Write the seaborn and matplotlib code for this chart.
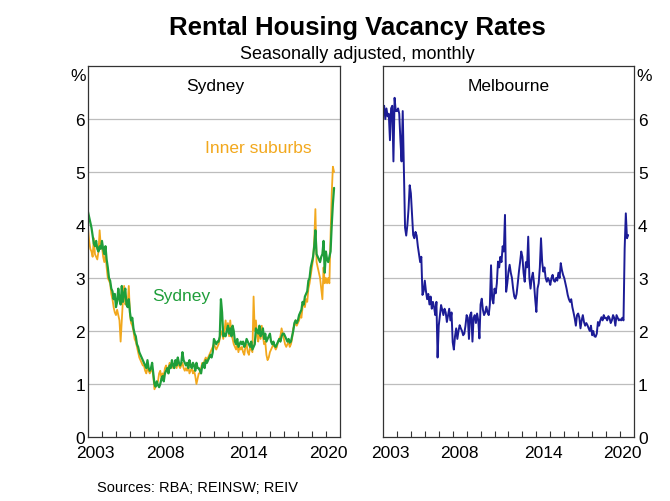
import numpy as np
import pandas as pd
import seaborn as sns
import matplotlib.pyplot as plt

# Monthly vacancy rates (%), Jan 2003 - Aug 2020
sydney = [
    4.25, 4.15, 4.05, 3.95, 3.8, 3.65, 3.6, 3.7, 3.55, 3.5, 3.6, 3.55,
    3.7, 3.55, 3.45, 3.6, 3.35, 3.2, 3.0, 2.95, 2.8, 2.75, 2.6, 2.7,
    2.45, 2.55, 2.8, 2.6, 2.5, 2.85, 2.55, 2.7, 2.8, 2.5, 2.45, 2.6,
    2.35, 2.2, 2.25, 2.05, 1.95, 1.9, 1.75, 1.7, 1.6, 1.55, 1.5, 1.45,
    1.4, 1.35, 1.3, 1.45, 1.3, 1.25, 1.3, 1.4, 1.2, 1.0, 0.95, 1.05,
    0.98, 0.94, 1.0, 1.1, 1.15, 1.05, 1.2, 1.25, 1.3, 1.2, 1.35, 1.3,
    1.45, 1.35, 1.3, 1.45, 1.35, 1.5, 1.4, 1.35, 1.4, 1.6, 1.45, 1.4,
    1.35, 1.4, 1.3, 1.45, 1.35, 1.3, 1.4, 1.35, 1.25, 1.4, 1.3, 1.3,
    1.25, 1.2, 1.35, 1.4, 1.3, 1.45, 1.4, 1.45, 1.5, 1.55, 1.5, 1.6,
    1.85, 1.8, 1.75, 1.8, 1.8, 1.9, 2.6, 2.35, 1.9, 1.95, 1.9, 2.0,
    2.1, 1.95, 2.05, 1.9, 2.1, 2.0, 1.8, 1.75, 1.85, 1.7, 1.75, 1.8,
    1.75, 1.8, 1.7, 1.75, 1.85, 1.8, 1.75, 1.7, 1.8, 1.65, 1.7, 1.75,
    2.05, 2.0, 1.95, 2.1, 1.9, 1.95, 2.05, 1.85, 1.95, 1.8, 1.85, 1.9,
    1.95, 1.8, 1.75, 1.8, 1.72, 1.7, 1.75, 1.8, 1.85, 1.8, 1.9, 1.95,
    1.95, 1.9, 1.85, 1.8, 1.85, 1.78, 1.8, 1.9, 2.0, 2.15, 2.2, 2.15,
    2.2, 2.3, 2.35, 2.4, 2.55, 2.5, 2.65, 2.7, 2.75, 2.95, 3.0, 3.2,
    3.3, 3.4, 3.6, 3.9, 3.45, 3.4, 3.35, 3.3, 3.4, 3.45, 3.7, 3.1,
    3.5, 3.35, 3.3, 3.4, 3.5, 4.0, 4.4, 4.7,
]

inner_suburbs = [
    3.95, 3.7, 3.55, 3.5, 3.4, 3.75, 3.45, 3.4, 3.35, 3.5, 3.9, 3.6,
    3.6, 3.4, 3.3, 3.45, 3.2, 3.0, 2.95, 2.9, 2.7, 2.6, 2.45, 2.35,
    2.3, 2.4, 2.3, 2.2, 1.8, 2.2, 2.6, 2.85, 2.5, 2.55, 2.5, 2.85,
    2.3, 2.15, 2.1, 2.0, 1.85, 1.8, 1.7, 1.6, 1.5, 1.45, 1.4, 1.35,
    1.35, 1.25, 1.2, 1.3, 1.25, 1.2, 1.25, 1.3, 1.15, 0.9, 0.95, 1.0,
    1.05, 1.2, 1.25, 1.1, 1.2, 1.15, 1.3, 1.35, 1.25, 1.3, 1.4, 1.35,
    1.4, 1.3, 1.35, 1.4, 1.3, 1.45, 1.35, 1.3, 1.35, 1.4, 1.3, 1.25,
    1.3, 1.25, 1.35, 1.2, 1.25, 1.3, 1.2, 1.25, 1.15, 1.0, 1.1, 1.2,
    1.2, 1.3, 1.4, 1.35, 1.45, 1.5, 1.4, 1.5, 1.55, 1.6, 1.65, 1.7,
    1.75, 1.7, 1.65, 1.7, 1.75, 1.85, 2.0, 1.95, 1.85, 2.0, 2.2, 2.0,
    2.15, 1.9, 2.2, 1.95, 1.85, 1.75, 1.7, 1.65, 1.75, 1.6, 1.7, 1.65,
    1.7, 1.6, 1.55, 1.7, 1.75, 1.6, 1.55, 1.7, 1.65, 1.6, 2.65, 2.0,
    2.2, 1.9, 1.8, 2.05, 1.85, 2.1, 1.9, 1.75, 1.8, 1.55, 1.45, 1.5,
    1.6, 1.65, 1.7, 1.75, 1.7, 1.65, 1.7, 1.8, 1.85, 1.9, 2.05, 1.95,
    1.85, 1.75, 1.7, 1.75, 1.8, 1.7, 1.75, 1.85, 2.05, 2.1, 2.2, 2.1,
    2.15, 2.2, 2.3, 2.25, 2.45, 2.55, 2.45, 2.6, 2.55, 2.8, 2.9, 3.05,
    3.2, 3.35, 3.7, 4.3, 3.3, 3.2, 3.1, 3.0, 2.8, 2.6, 3.2, 2.9,
    3.0, 2.9, 3.0, 2.9, 3.8, 4.6, 5.1, 5.0,
]

melbourne = [
    6.15, 6.25, 6.0, 6.2, 6.05, 6.1, 5.6, 6.2, 6.25, 5.2, 6.4, 6.15,
    6.15, 6.2, 6.1, 5.6, 5.2, 6.15, 5.0, 3.95, 3.8, 4.0, 4.3, 4.75,
    4.6, 4.2, 3.81, 3.75, 3.87, 3.8, 3.6, 3.45, 3.3, 3.4, 2.68, 2.75,
    2.95, 2.75, 2.6, 2.7, 2.5, 2.65, 2.42, 2.55, 2.45, 2.3, 2.55, 1.5,
    2.1, 2.3, 2.49, 2.4, 2.3, 2.42, 2.35, 2.17, 2.3, 2.42, 2.2, 2.35,
    1.79, 1.65, 1.9, 2.05, 1.85, 2.0, 2.11, 2.05, 2.0, 1.92, 1.95, 2.1,
    2.3, 2.25, 1.85, 2.3, 2.35, 1.8, 2.25, 2.3, 2.15, 2.33, 2.2, 1.86,
    2.5, 2.61, 2.4, 2.3, 2.35, 2.46, 2.35, 2.3, 2.5, 3.24, 2.6, 2.52,
    2.8, 2.71, 2.9, 3.31, 3.2, 3.4, 3.3, 3.6, 3.5, 4.19, 2.74, 2.9,
    3.12, 3.25, 3.1, 3.0, 2.8, 2.65, 2.61, 2.7, 2.9, 3.12, 3.3, 3.5,
    3.4, 3.1, 2.93, 3.3, 3.2, 3.78, 3.0, 2.8, 3.0, 3.1, 2.9, 2.6,
    2.36, 2.8, 2.9, 3.2, 3.75, 3.3, 3.12, 3.2, 3.0, 2.93, 3.0, 2.95,
    2.87, 3.0, 3.06, 2.95, 2.93, 3.0, 2.95, 3.1, 3.0, 3.28, 3.15, 3.06,
    3.0, 2.9, 2.8, 2.68, 2.6, 2.55, 2.6, 2.45, 2.35, 2.24, 2.1, 2.3,
    2.33, 2.25, 2.05, 2.2, 2.3, 2.17, 2.1, 2.15, 2.11, 2.05, 2.0, 2.1,
    1.92, 2.0, 1.9, 1.89, 1.95, 2.17, 2.1, 2.2, 2.26, 2.2, 2.3, 2.24,
    2.25, 2.2, 2.28, 2.24, 2.15, 2.2, 2.3, 2.25, 2.1, 2.3, 2.25, 2.2,
    2.22, 2.2, 2.25, 2.2, 3.56, 4.22, 3.75, 3.81,
]

year_labels = ["2003", "2008", "2014", "2020"]
year_label_pos = [2003.5, 2008.5, 2014.5, 2020.15]
y_ticks = [0, 1, 2, 3, 4, 5, 6]

# Build a tidy frame with decimal-year x values
dates = pd.date_range("2003-01-01", periods=len(sydney), freq="MS")
t = dates.year + (dates.month - 1) / 12
df = pd.DataFrame({"t": t, "sydney": sydney, "inner": inner_suburbs, "melbourne": melbourne})

GREEN = "#1f9e3a"
ORANGE = "#f2a81d"
NAVY = "#1c1c96"

sns.set_style("white")
plt.rcParams["font.family"] = ["Liberation Sans", "DejaVu Sans"]
plt.rcParams["text.color"] = "black"
plt.rcParams["xtick.color"] = "black"
plt.rcParams["ytick.color"] = "black"

fig = plt.figure(figsize=(6.7, 5.02), dpi=100)
ax1 = fig.add_axes([0.1313, 0.1275, 0.376, 0.739])
ax2 = fig.add_axes([0.5716, 0.1275, 0.3746, 0.739])

sns.lineplot(data=df, x="t", y="inner", ax=ax1, color=ORANGE, linewidth=1.3)
sns.lineplot(data=df, x="t", y="sydney", ax=ax1, color=GREEN, linewidth=1.6)
sns.lineplot(data=df, x="t", y="melbourne", ax=ax2, color=NAVY, linewidth=1.4)

for ax in (ax1, ax2):
    ax.set_xlim(2003, 2021)
    ax.set_ylim(0, 7)
    ax.set_xlabel("")
    ax.set_ylabel("")
    ax.set_yticks(y_ticks)
    ax.set_yticklabels([str(v) for v in y_ticks], fontsize=12.5)
    for v in y_ticks[1:]:
        ax.axhline(v, color="#bdbdbd", linewidth=0.9, zorder=0)
    ax.set_xticks(year_label_pos)
    ax.set_xticklabels(year_labels, fontsize=12.5)
    ax.set_xticks(range(2004, 2021), minor=True)
    ax.tick_params(axis="x", which="major", length=0, pad=6)
    ax.tick_params(axis="x", which="minor", direction="in", length=4.5,
                   width=0.8, color="#333333", bottom=True)
    ax.tick_params(axis="y", length=0, pad=2)
    for sp in ax.spines.values():
        sp.set_visible(True)
        sp.set_color("#333333")
        sp.set_linewidth(0.9)

ax2.yaxis.tick_right()
ax2.tick_params(axis="y", length=0, pad=3)

ax1.text(2012.1, 6.63, "Sydney", fontsize=12.5, ha="center", va="center")
ax2.text(2012.0, 6.63, "Melbourne", fontsize=12.5, ha="center", va="center")

ax1.text(2015.2, 5.47, "Inner suburbs", color=ORANGE, fontsize=12.5, ha="center", va="center")
ax1.text(2009.7, 2.67, "Sydney", color=GREEN, fontsize=12.5, ha="center", va="center")

fig.text(0.117, 0.848, "%", fontsize=12.5, ha="center", va="center")
fig.text(0.962, 0.848, "%", fontsize=12.5, ha="center", va="center")

fig.text(0.533, 0.944, "Rental Housing Vacancy Rates", fontsize=18.5, fontweight="bold",
         ha="center", va="center")
fig.text(0.533, 0.892, "Seasonally adjusted, monthly", fontsize=13, ha="center", va="center")
fig.text(0.145, 0.028, "Sources: RBA; REINSW; REIV", fontsize=10.5, ha="left", va="center")

fig.savefig("out.png", dpi=100)
